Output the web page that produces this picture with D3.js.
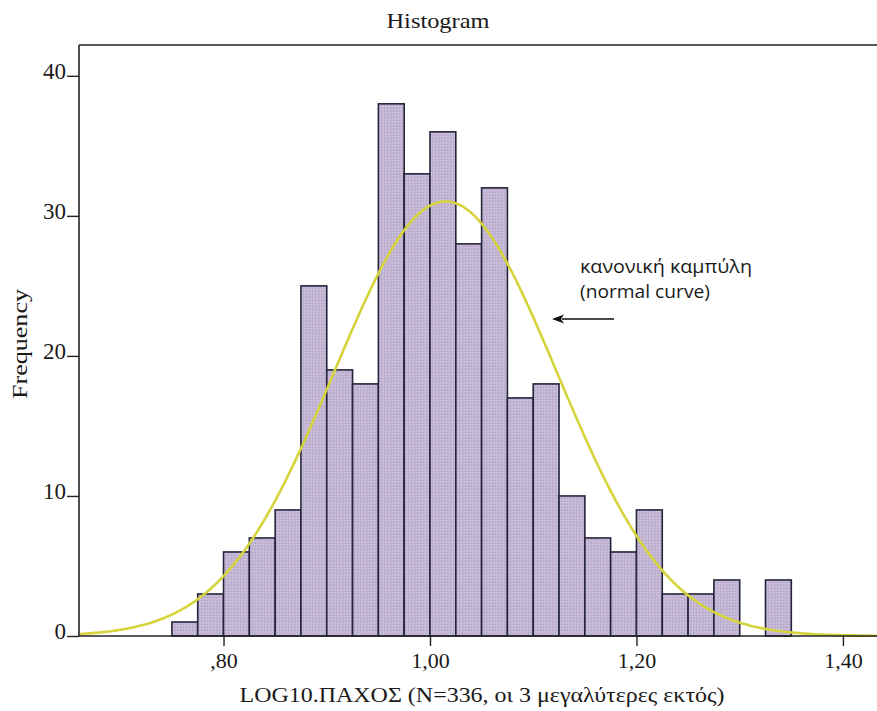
<!DOCTYPE html>
<html>
<head>
<meta charset="utf-8">
<script src="https://cdn.jsdelivr.net/npm/d3@7"></script>
<style>
  html, body { margin: 0; padding: 0; background: #ffffff; }
  svg { display: block; }
</style>
</head>
<body>
<svg id="chart" width="877" height="711"></svg>
<script>
// Histogram of LOG10 thickness, bins of width 0.025
const binStarts = [0.750, 0.775, 0.800, 0.825, 0.850, 0.875, 0.900, 0.925, 0.950, 0.975,
                   1.000, 1.025, 1.050, 1.075, 1.100, 1.125, 1.150, 1.175, 1.200, 1.225,
                   1.250, 1.275, 1.300, 1.325];
const frequencies = [1, 3, 6, 7, 9, 25, 19, 18, 38, 33,
                     36, 28, 32, 17, 18, 10, 7, 6, 9, 3,
                     3, 4, 0, 4];
const binWidth = 0.025;
const xTicks = [0.80, 1.00, 1.20, 1.40];
const yTicks = [0, 10, 20, 30, 40];
// fitted normal curve parameters
const sampleN = 336;
const fitMean = 1.015;
const fitSd = 0.108;

const svg = d3.select("#chart");
const W = 877, H = 711;
const plot = { left: 79, top: 45, right: 877, bottom: 636 };

const x = d3.scaleLinear().domain([0.66, 1.433]).range([plot.left, plot.right]);
const y = d3.scaleLinear().domain([0, 42.2]).range([plot.bottom, plot.top]);

const serif = "'Liberation Serif', 'DejaVu Serif', serif";
const sans = "'Open Sans', 'Noto Sans', sans-serif";

// bar texture: light lavender with fine dot grain
const defs = svg.append("defs");
const pat = defs.append("pattern")
  .attr("id", "grain").attr("width", 3).attr("height", 3)
  .attr("patternUnits", "userSpaceOnUse");
pat.append("rect").attr("width", 3).attr("height", 3).attr("fill", "#c2b6d4");
pat.append("rect").attr("x", 0).attr("y", 0).attr("width", 1).attr("height", 1).attr("fill", "#ada0c2");
pat.append("rect").attr("x", 2).attr("y", 1).attr("width", 1).attr("height", 1).attr("fill", "#d2c8df");

// title
svg.append("text")
  .attr("x", 438).attr("y", 28)
  .attr("text-anchor", "middle")
  .attr("font-family", serif).attr("font-size", 22)
  .attr("textLength", 103).attr("lengthAdjust", "spacingAndGlyphs")
  .attr("fill", "#1a1a1a")
  .text("Histogram");

// bars
svg.append("g").selectAll("rect")
  .data(binStarts.map((s, i) => ({ s, f: frequencies[i] })).filter(d => d.f > 0))
  .join("rect")
  .attr("x", d => x(d.s))
  .attr("y", d => y(d.f))
  .attr("width", d => x(d.s + binWidth) - x(d.s))
  .attr("height", d => y(0) - y(d.f))
  .attr("fill", "url(#grain)")
  .attr("stroke", "#25243a")
  .attr("stroke-width", 1.6);

// normal curve scaled to counts
const peak = sampleN * binWidth / (fitSd * Math.sqrt(2 * Math.PI));
const curvePts = d3.range(0, 401).map(i => {
  const v = x.domain()[0] + (x.domain()[1] - x.domain()[0]) * i / 400;
  const z = (v - fitMean) / fitSd;
  return [v, peak * Math.exp(-0.5 * z * z)];
});
svg.append("path")
  .datum(curvePts)
  .attr("fill", "none")
  .attr("stroke", "#d6d43c")
  .attr("stroke-width", 2.6)
  .attr("d", d3.line().x(d => x(d[0])).y(d => y(d[1])));

// frame: top line and axes
svg.append("line")
  .attr("x1", plot.left).attr("x2", W)
  .attr("y1", plot.top).attr("y2", plot.top)
  .attr("stroke", "#222").attr("stroke-width", 1.6);

const yAxis = svg.append("g")
  .attr("transform", `translate(${plot.left},0)`)
  .call(d3.axisLeft(y).tickValues(yTicks).tickSize(12).tickPadding(1).tickFormat(d3.format("d")));
yAxis.select(".domain").attr("d", `M0,${plot.top}V${plot.bottom}`).attr("stroke", "#222").attr("stroke-width", 1.6);
yAxis.selectAll(".tick line").attr("stroke", "#222").attr("stroke-width", 1.4);
yAxis.selectAll(".tick text")
  .attr("font-family", serif).attr("font-size", 23).attr("fill", "#1a1a1a")
  .attr("dy", "0.1em");

const commaFmt = v => d3.format(".2f")(v).replace(".", ",").replace(/^0/, "");
const xAxis = svg.append("g")
  .attr("transform", `translate(0,${plot.bottom})`)
  .call(d3.axisBottom(x).tickValues(xTicks).tickSize(10).tickPadding(6).tickFormat(commaFmt));
xAxis.select(".domain").attr("d", `M${plot.left},0H${W}`).attr("stroke", "#222").attr("stroke-width", 1.6);
xAxis.selectAll(".tick line").attr("stroke", "#222").attr("stroke-width", 1.4);
xAxis.selectAll(".tick text")
  .attr("font-family", serif).attr("font-size", 22).attr("fill", "#1a1a1a");

// axis titles
svg.append("text")
  .attr("transform", "translate(27,344) rotate(-90)")
  .attr("text-anchor", "middle")
  .attr("font-family", serif).attr("font-size", 21)
  .attr("textLength", 110).attr("lengthAdjust", "spacingAndGlyphs")
  .attr("fill", "#1a1a1a")
  .text("Frequency");

svg.append("text")
  .attr("x", 482).attr("y", 702)
  .attr("text-anchor", "middle")
  .attr("font-family", serif).attr("font-size", 21)
  .attr("textLength", 485).attr("lengthAdjust", "spacingAndGlyphs")
  .attr("fill", "#1a1a1a")
  .text("LOG10.ΠΑΧΟΣ (N=336, οι 3 μεγαλύτερες εκτός)");

// curve annotation with arrow
svg.append("text")
  .attr("x", 580).attr("y", 273)
  .attr("font-family", sans).attr("font-size", 19)
  .attr("textLength", 172).attr("lengthAdjust", "spacingAndGlyphs")
  .attr("fill", "#1a1a1a")
  .text("κανονική καμπύλη");
svg.append("text")
  .attr("x", 580).attr("y", 298)
  .attr("font-family", sans).attr("font-size", 19)
  .attr("textLength", 130).attr("lengthAdjust", "spacingAndGlyphs")
  .attr("fill", "#1a1a1a")
  .text("(normal curve)");
svg.append("line")
  .attr("x1", 614).attr("x2", 562)
  .attr("y1", 319).attr("y2", 319)
  .attr("stroke", "#111").attr("stroke-width", 1.3);
svg.append("path")
  .attr("d", "M552,319 L564,314.5 L561,319 L564,323.5 Z")
  .attr("fill", "#111");
</script>
</body>
</html>
